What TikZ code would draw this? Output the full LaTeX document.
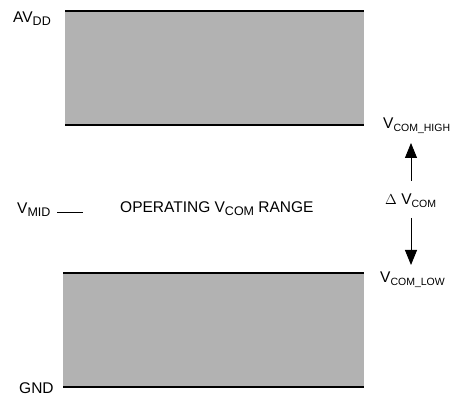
\documentclass[tikz,border=0pt]{standalone}
\usepackage{fontspec}
\setmainfont{Liberation Sans}
\usetikzlibrary{arrows.meta}
\newcommand{\lsub}[1]{\raisebox{-0.3ex}{\fontsize{12.5}{14}\selectfont #1}}
\newcommand{\ssub}[1]{\raisebox{-0.3ex}{\fontsize{10.5}{12}\selectfont #1}}
\begin{document}
\begin{tikzpicture}[x=1pt,y=-1pt,
  band/.style={fill=black!30,draw=none},
  rail/.style={line width=1.5pt},
  lbl/.style={inner sep=0pt,anchor=base west,font=\fontsize{15.5}{18}\selectfont},
  arr/.style={line width=0.9pt,-{Triangle[length=15pt,width=12pt]}}]
\useasboundingbox (0,0) rectangle (451,398);
\fill[band] (65,11) rectangle (364,125);
\fill[band] (63,273) rectangle (364,387);
\draw[rail] (65,11) -- (364,11);
\draw[rail] (65,125) -- (364,125);
\draw[rail] (63,273) -- (364,273);
\draw[rail] (63,387) -- (364,387);
\node[lbl] (avdd) at (13,22.7) {AV\lsub{DD}};
\node[lbl] (gnd) at (19,394) {GND};
\node[lbl] (vmid) at (17,214) {V\lsub{MID}};
\coordinate (d1) at (57,212);
\coordinate (d2) at (83,212);
\draw[line width=0.7pt] (d1) -- (d2);
\node[lbl] (op) at (120,213) {OPERATING V\lsub{COM} RANGE};
\node[lbl] (vh) at (383,129) {V\ssub{COM\_HIGH}};
\node[lbl] (dv) at (385,205) {$\Delta$ V\ssub{COM}};
\node[lbl] (vl) at (380,283) {V\ssub{COM\_LOW}};
\draw[arr] (411,181) -- (411,143);
\draw[arr] (411,218) -- (411,265);
\end{tikzpicture}
\end{document}
